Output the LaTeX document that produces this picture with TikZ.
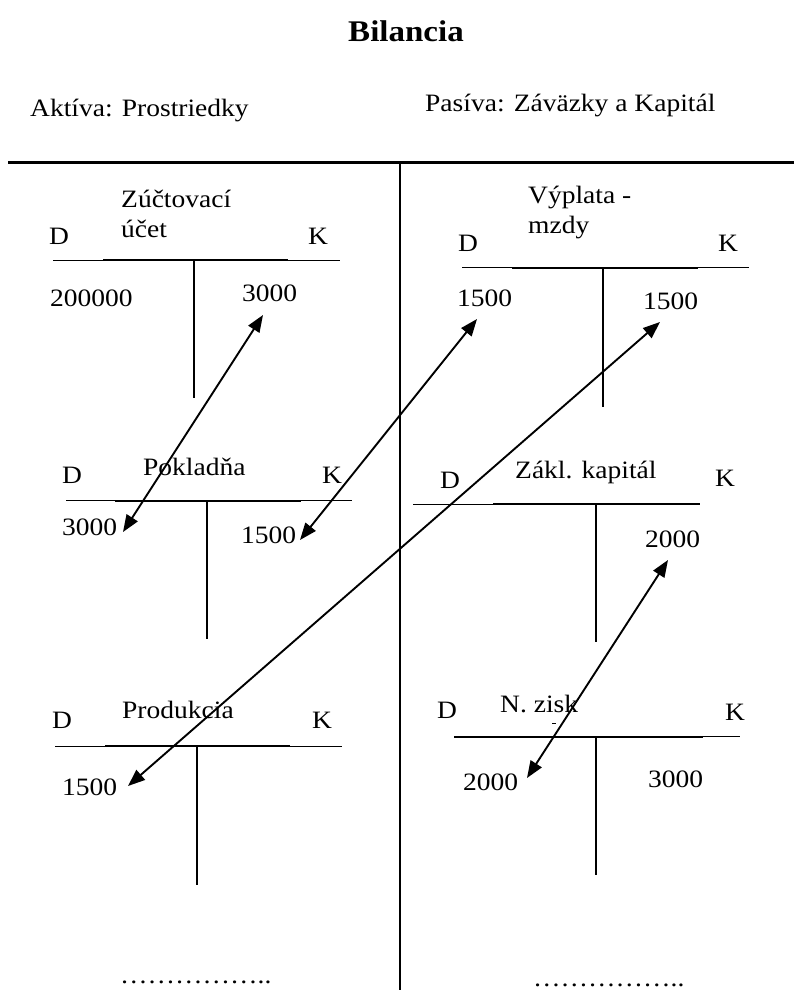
\documentclass[tikz,border=0pt]{standalone}
\usepackage{fontspec}
\setmainfont{Liberation Serif}
\usetikzlibrary{arrows.meta}
\newcommand{\sx}[1]{\scalebox{1.1}[1]{#1}}
\begin{document}
\begin{tikzpicture}[x=1pt,y=-1pt,
  txt/.style={inner sep=0pt, anchor=base west, font=\fontsize{25}{30}\selectfont},
  ttl/.style={inner sep=0pt, anchor=base, font=\fontsize{30}{36}\selectfont\bfseries},
  divider/.style={line width=2.2pt},
  tthin/.style={line width=1pt},
  tmid/.style={line width=1.8pt},
  tvert/.style={line width=1.8pt},
  arr/.style={line width=1.9pt, {Triangle[length=17pt,width=13pt]}-{Triangle[length=17pt,width=13pt]}}
]
\useasboundingbox (0,0) rectangle (794,990);

% title and headers
\node[ttl] (title) at (406,42) {\sx{Bilancia}};
\node[txt] (akt) at (30,116) {\sx{Aktíva: Prostriedky}};
\node[txt] (pas) at (425,111) {\sx{Pasíva: Záväzky a Kapitál}};

% main dividers
\coordinate (hl) at (8,162.5);
\coordinate (hr) at (794,162.5);
\coordinate (vt) at (400,162.5);
\coordinate (vb) at (400,990);
\draw[divider] (hl) -- (hr);
\draw[divider] (vt) -- (vb);

% Zuctovaci ucet
\node[txt] (zuc1) at (121,207.5) {\sx{Zúčtovací}};
\node[txt] (zuc2) at (121,237.5) {\sx{účet}};
\node[txt] (zucD) at (49,244) {\sx{D}};
\node[txt] (zucK) at (308,244) {\sx{K}};
\draw[tthin] (53,260) -- (340,260);
\draw[tmid] (103,260) -- (288,260);
\draw[tvert] (194.3,260) -- (194.3,398);
\node[txt] (zucA) at (50,306.5) {\sx{200000}};
\node[txt] (zucB) at (242,301) {\sx{3000}};

% Vyplata - mzdy
\node[txt] (vyp1) at (528,203.5) {\sx{Výplata -}};
\node[txt] (vyp2) at (528,233) {\sx{mzdy}};
\node[txt] (vypD) at (458,251) {\sx{D}};
\node[txt] (vypK) at (718,251) {\sx{K}};
\draw[tthin] (462,267.7) -- (749,267.7);
\draw[tmid] (512,267.7) -- (698,267.7);
\draw[tvert] (603,267.7) -- (603,406.7);
\node[txt] (vypA) at (457,306.5) {\sx{1500}};
\node[txt] (vypB) at (643,309) {\sx{1500}};

% Pokladna
\node[txt] (pokT) at (143,475) {\sx{Pokladňa}};
\node[txt] (pokD) at (62,483) {\sx{D}};
\node[txt] (pokK) at (322,483) {\sx{K}};
\draw[tthin] (66,500.7) -- (352,500.7);
\draw[tmid] (115,500.7) -- (301,500.7);
\draw[tvert] (207.3,500.7) -- (207.3,639);
\node[txt] (pokA) at (62,535.5) {\sx{3000}};
\node[txt] (pokB) at (241,543) {\sx{1500}};

% Zakl. kapital
\node[txt] (zakT) at (515,478) {\sx{Zákl. kapitál}};
\node[txt] (zakD) at (440,488) {\sx{D}};
\node[txt] (zakK) at (715,486) {\sx{K}};
\draw[tthin] (413,504) -- (700,504);
\draw[tmid] (493,504) -- (700,504);
\draw[tvert] (596,504) -- (596,642);
\node[txt] (zakB) at (645,547) {\sx{2000}};

% Produkcia
\node[txt] (proT) at (122,718) {\sx{Produkcia}};
\node[txt] (proD) at (52,728) {\sx{D}};
\node[txt] (proK) at (312,728) {\sx{K}};
\draw[tthin] (55,746) -- (342,746);
\draw[tmid] (105,746) -- (290,746);
\draw[tvert] (197,746) -- (197,885);
\node[txt] (proA) at (62,795) {\sx{1500}};

% N. zisk
\node[txt] (nzT) at (500,712) {\sx{N. zisk}};
\node[txt] (nzD) at (437,718) {\sx{D}};
\node[txt] (nzK) at (725,720) {\sx{K}};
\draw[line width=0.8pt] (552,723) -- (556,723);
\draw[tthin] (454,736.7) -- (740,736.7);
\draw[tmid] (454,736.7) -- (703,736.7);
\draw[tvert] (596,736.7) -- (596,875);
\node[txt] (nzA) at (463,790) {\sx{2000}};
\node[txt] (nzB) at (648,787) {\sx{3000}};

% dots
\node[txt] (dotsL) at (120,983) {\sx{……………..}};
\node[txt] (dotsR) at (533,986) {\sx{……………..}};

% arrows
\coordinate (a1u) at (263,315);
\coordinate (a1l) at (123,532);
\coordinate (a2u) at (477,319);
\coordinate (a2l) at (300,540);
\coordinate (a3u) at (660,322);
\coordinate (a3l) at (128,786);
\coordinate (a4u) at (668,560);
\coordinate (a4l) at (527,778);
\draw[arr] (a1l) -- (a1u);
\draw[arr] (a2l) -- (a2u);
\draw[arr] (a3l) -- (a3u);
\draw[arr] (a4l) -- (a4u);
\end{tikzpicture}
\end{document}
